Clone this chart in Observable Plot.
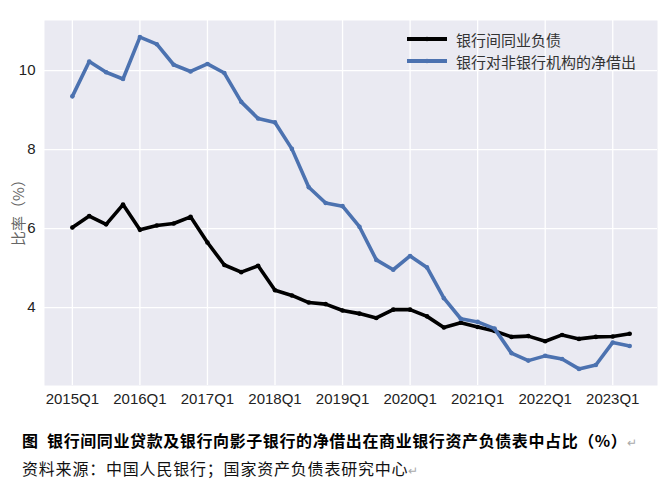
<!DOCTYPE html>
<html>
<head>
<meta charset="utf-8">
<script src="https://cdn.jsdelivr.net/npm/d3@7"></script>
<script src="https://cdn.jsdelivr.net/npm/@observablehq/plot@0.6"></script>
<style>
  body { margin: 0; background: #fff; }
  #wrap { position: relative; width: 663px; height: 499px; font-family: "Liberation Sans", "Noto Sans CJK SC", sans-serif; }
  #legend { position: absolute; left: 406px; top: 28px; font-family: "Noto Sans CJK SC", sans-serif; font-size: 15px; color: #333; }
  .row { display: flex; align-items: center; height: 22px; }
  .row svg { margin-right: 8px; }
  .cap1 { position: absolute; left: 22px; top: 428px; font-family: "Noto Sans CJK SC", sans-serif; font-weight: bold; font-size: 16px; line-height: 24px; color: #000; letter-spacing: 0.6px; white-space: nowrap; }
  .cap2 { position: absolute; left: 22px; top: 456px; font-family: "Noto Sans CJK SC", sans-serif; font-size: 16px; line-height: 24px; color: #111; letter-spacing: 0.8px; white-space: nowrap; }
  .pm { color: #aaa; font-weight: normal; font-size: 12px; }
</style>
</head>
<body>
<div id="wrap">
  <div id="chart"></div>
  <div id="legend"></div>
  <div class="cap1">图&nbsp;&nbsp;银行间同业贷款及银行向影子银行的净借出在商业银行资产负债表中占比（%）<span class="pm">↵</span></div>
  <div class="cap2">资料来源：中国人民银行；国家资产负债表研究中心<span class="pm">↵</span></div>
</div>
<script>
const quarters = ["2015Q1","2015Q2","2015Q3","2015Q4","2016Q1","2016Q2","2016Q3","2016Q4",
  "2017Q1","2017Q2","2017Q3","2017Q4","2018Q1","2018Q2","2018Q3","2018Q4",
  "2019Q1","2019Q2","2019Q3","2019Q4","2020Q1","2020Q2","2020Q3","2020Q4",
  "2021Q1","2021Q2","2021Q3","2021Q4","2022Q1","2022Q2","2022Q3","2022Q4",
  "2023Q1","2023Q2"];
const interbank = [6.03,6.32,6.11,6.61,5.97,6.08,6.13,6.30,
  5.65,5.08,4.90,5.06,4.44,4.31,4.13,4.09,
  3.93,3.85,3.74,3.95,3.95,3.78,3.50,3.62,
  3.51,3.41,3.26,3.28,3.15,3.31,3.21,3.26,
  3.27,3.34];
const shadow = [9.35,10.23,9.96,9.79,10.85,10.67,10.15,9.98,
  10.17,9.94,9.21,8.79,8.69,8.02,7.05,6.65,
  6.57,6.05,5.21,4.96,5.31,5.02,4.24,3.72,
  3.64,3.47,2.85,2.66,2.78,2.70,2.45,2.55,
  3.12,3.03];
const tickLabels = ["2015Q1","2016Q1","2017Q1","2018Q1","2019Q1","2020Q1","2021Q1","2022Q1","2023Q1"];
const yTicks = [4, 6, 8, 10];
const seriesNames = ["银行间同业负债", "银行对非银行机构的净借出"];
const seriesColors = ["#000000", "#4C72B0"];

const xTicks = tickLabels.map(l => quarters.indexOf(l));
const d1 = quarters.map((q, i) => ({i, v: interbank[i]}));
const d2 = quarters.map((q, i) => ({i, v: shadow[i]}));

const chart = Plot.plot({
  width: 663, height: 410,
  marginLeft: 44, marginRight: 6, marginTop: 20, marginBottom: 25,
  style: {fontFamily: "'Liberation Sans', 'Noto Sans CJK SC', sans-serif", fontSize: "15px", color: "#222", background: "transparent"},
  x: {domain: [-1.65, 34.65]},
  y: {domain: [2.03, 11.27]},
  marks: [
    Plot.frame({fill: "#EAEAF2", stroke: null}),
    Plot.gridX(xTicks, {stroke: "#fff", strokeOpacity: 1, strokeWidth: 1.3}),
    Plot.gridY(yTicks, {stroke: "#fff", strokeOpacity: 1, strokeWidth: 1.3}),
    Plot.line(d1, {x: "i", y: "v", stroke: seriesColors[0], strokeWidth: 3.6, strokeLinejoin: "round"}),
    Plot.dot(d1, {x: "i", y: "v", fill: seriesColors[0], r: 2.3}),
    Plot.line(d2, {x: "i", y: "v", stroke: seriesColors[1], strokeWidth: 3.6, strokeLinejoin: "round"}),
    Plot.dot(d2, {x: "i", y: "v", fill: seriesColors[1], r: 2.3}),
    Plot.axisX({ticks: xTicks, tickFormat: i => quarters[i], tickSize: 0, tickPadding: 8, label: null}),
    Plot.axisY({ticks: yTicks, tickSize: 0, tickPadding: 9, label: "比率（%）", labelAnchor: "center", labelArrow: "none", labelOffset: 31})
  ]
});
document.getElementById("chart").appendChild(chart);
d3.select(chart).selectAll("[aria-label='y-axis label'] text")
  .attr("fill", "#666")
  .attr("dx", -6)
  .style("font-size", "15px")
  .style("font-family", "'Noto Sans CJK SC', sans-serif");

const legend = document.getElementById("legend");
seriesNames.forEach((name, k) => {
  const row = document.createElement("div");
  row.className = "row";
  row.innerHTML = `<svg width="42" height="10"><line x1="1" x2="41" y1="5" y2="5" stroke="${seriesColors[k]}" stroke-width="4"/><circle cx="21" cy="5" r="2.3" fill="${seriesColors[k]}"/></svg><span>${name}</span>`;
  legend.appendChild(row);
});
</script>
</body>
</html>
